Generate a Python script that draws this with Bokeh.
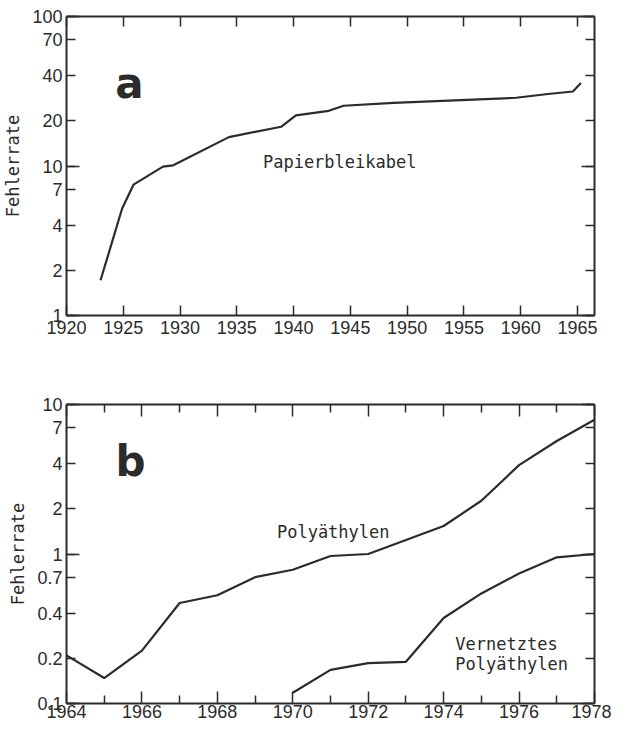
from bokeh.plotting import figure
from bokeh.models import LogAxis, LinearAxis, FixedTicker, CustomJSTickFormatter, Label, Range1d
from bokeh.layouts import column
from bokeh.embed import file_html
from bokeh.resources import INLINE

# ---------------- data ----------------
# Panel a: Papierbleikabel
years_a = [1923.0, 1924.9, 1925.9, 1928.5, 1929.4, 1934.3, 1938.9, 1940.2, 1943.1,
           1944.4, 1948.8, 1959.6, 1962.4, 1964.6, 1965.3]
rate_a = [1.72, 5.2, 7.5, 9.9, 10.1, 15.6, 18.3, 21.8, 23.4,
          25.3, 26.4, 28.6, 30.3, 31.5, 35.9]

xticks_a = [1920, 1925, 1930, 1935, 1940, 1945, 1950, 1955, 1960, 1965]
yticks_a = [1, 2, 4, 7, 10, 20, 40, 70, 100]
ydecades_a = [1, 10, 100]

# Panel b: Polyäthylen / Vernetztes Polyäthylen
years_pe = [1964, 1965, 1966, 1967, 1968, 1969, 1970, 1971, 1972, 1973, 1974, 1975, 1976, 1977, 1978]
rate_pe = [0.21, 0.148, 0.226, 0.47, 0.53, 0.70, 0.785, 0.97, 1.0, 1.24, 1.54, 2.27, 3.93, 5.7, 7.9]

years_xpe = [1970, 1971, 1972, 1973, 1974, 1975, 1976, 1977, 1978]
rate_xpe = [0.118, 0.168, 0.186, 0.19, 0.373, 0.545, 0.74, 0.95, 1.0]

xticks_b = [1964, 1966, 1968, 1970, 1972, 1974, 1976, 1978]
xticks_b_minor = [1965, 1967, 1969, 1971, 1973, 1975, 1977]
yticks_b = [0.1, 0.2, 0.4, 0.7, 1, 2, 4, 7, 10]
ydecades_b = [0.1, 1, 10]

# ---------------- style ----------------
INK = "#2b2b2b"
TICK_FONT = "Liberation Sans"
MONO = "DejaVu Sans Mono"


def style_axis(ax, show_labels, major_in, minor_in, standoff=4):
    ax.axis_line_color = INK
    ax.axis_line_width = 2
    ax.major_tick_line_color = INK
    ax.minor_tick_line_color = INK
    ax.major_tick_line_width = 1.5
    ax.minor_tick_line_width = 1.5
    ax.major_tick_out = 0
    ax.minor_tick_out = 0
    ax.major_tick_in = major_in
    ax.minor_tick_in = minor_in
    ax.major_label_text_font = TICK_FONT
    ax.major_label_text_color = INK
    ax.major_label_standoff = standoff
    if show_labels:
        ax.major_label_text_font_size = "18px"
        ax.formatter = CustomJSTickFormatter(code="return String(tick);")
    else:
        ax.major_label_text_font_size = "0px"
        ax.formatter = CustomJSTickFormatter(code="return '';")


def make_panel(xr, yr, xt, xt_minor, xin, xmin_in, yt, yd, height, top, bottom, xstandoff):
    p = figure(width=611, height=height, x_range=Range1d(*xr), y_range=Range1d(*yr),
               y_axis_type="log", output_backend="svg", toolbar_location=None,
               min_border_left=62, min_border_right=17, min_border_top=top,
               min_border_bottom=bottom)
    p.xgrid.grid_line_color = None
    p.ygrid.grid_line_color = None
    p.outline_line_color = None
    p.background_fill_color = "white"
    p.border_fill_color = "white"

    bx = p.xaxis[0]
    bx.ticker = FixedTicker(ticks=xt, minor_ticks=xt_minor)
    style_axis(bx, True, xin, xmin_in, xstandoff)

    ly = p.yaxis[0]
    ly.ticker = FixedTicker(ticks=yt, minor_ticks=yd)
    style_axis(ly, True, 9, 13, 4)
    ly.axis_label = "Fehlerrate"
    ly.axis_label_text_font = MONO
    ly.axis_label_text_font_size = "17px"
    ly.axis_label_text_font_style = "normal"
    ly.axis_label_text_color = INK
    ly.axis_label_standoff = 6

    tx = LinearAxis(ticker=FixedTicker(ticks=xt, minor_ticks=xt_minor))
    style_axis(tx, False, xin, xmin_in)
    p.add_layout(tx, "above")

    ry = LogAxis(ticker=FixedTicker(ticks=yt, minor_ticks=yd))
    style_axis(ry, False, 9, 13)
    p.add_layout(ry, "right")
    return p


# ---------------- panel a ----------------
p1 = make_panel((1920, 1966.5), (1, 100), xticks_a, [], 10, 10,
                yticks_a, ydecades_a, 362, 16, 47, 5)
p1.line(years_a, rate_a, line_color=INK, line_width=2.2)
p1.add_layout(Label(x=1924.3, y=35.7, text="a", text_font="DejaVu Sans",
                    text_font_style="bold", text_font_size="42px",
                    text_color=INK, text_baseline="alphabetic"))
p1.add_layout(Label(x=1937.3, y=10.7, text="Papierbleikabel", text_font=MONO,
                    text_font_size="17px", text_color=INK, text_baseline="alphabetic"))

# ---------------- panel b ----------------
p2 = make_panel((1964, 1978), (0.1, 10), xticks_b, xticks_b_minor, 12, 8,
                yticks_b, ydecades_b, 362, 42, 21, 1)
p2.line(years_pe, rate_pe, line_color=INK, line_width=2.2)
p2.line(years_xpe, rate_xpe, line_color=INK, line_width=2.2)
p2.add_layout(Label(x=1965.3, y=4.13, text="b", text_font="DejaVu Sans",
                    text_font_style="bold", text_font_size="42px",
                    text_color=INK, text_baseline="alphabetic"))
p2.add_layout(Label(x=1969.58, y=1.40, text="Polyäthylen", text_font=MONO,
                    text_font_size="17px", text_color=INK, text_baseline="alphabetic"))
p2.add_layout(Label(x=1974.31, y=0.249, text="Vernetztes", text_font=MONO,
                    text_font_size="17px", text_color=INK, text_baseline="alphabetic"))
p2.add_layout(Label(x=1974.31, y=0.184, text="Polyäthylen", text_font=MONO,
                    text_font_size="17px", text_color=INK, text_baseline="alphabetic"))

layout = column(p1, p2)
open("out.html", "w").write(file_html(layout, INLINE))
